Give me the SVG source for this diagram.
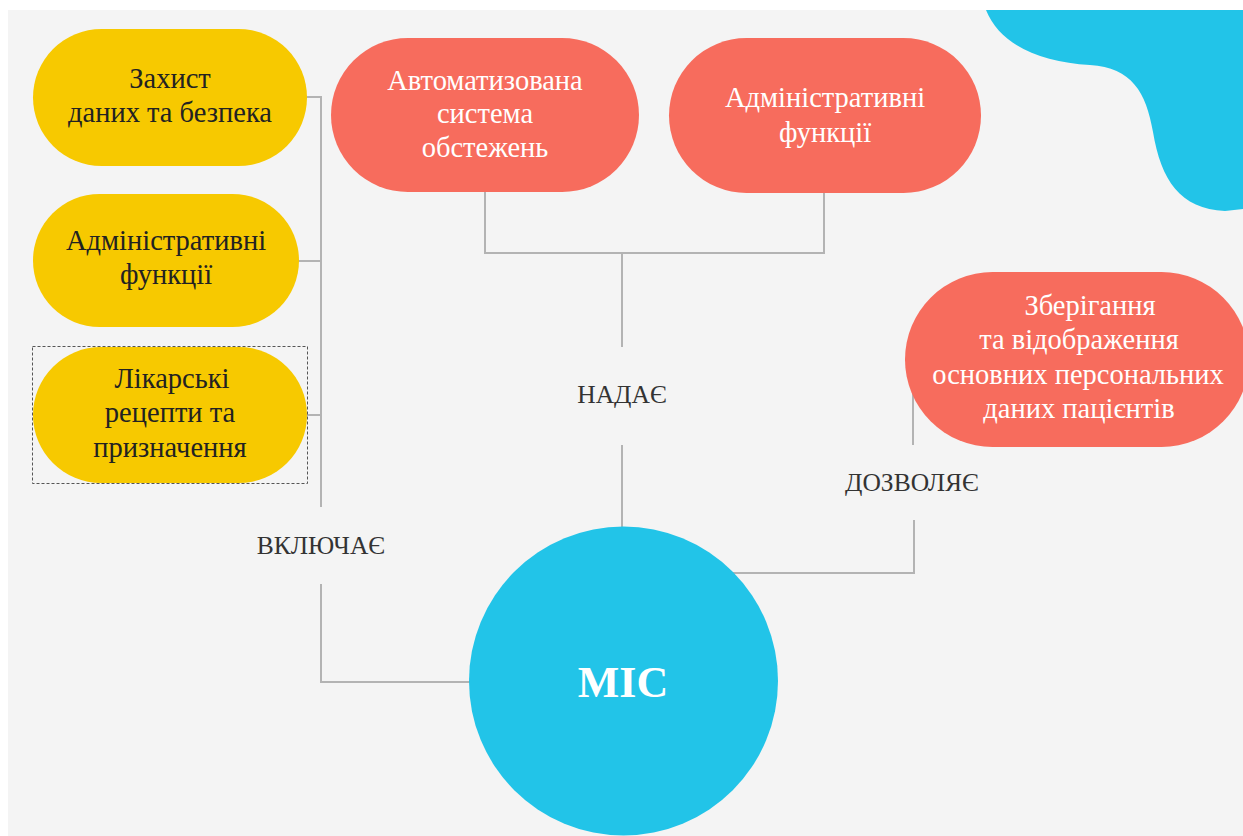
<svg xmlns="http://www.w3.org/2000/svg" width="1243" height="836" viewBox="0 0 1243 836">
<style>
.bg{fill:#f4f4f4}
.yel{fill:#f7c900}
.red{fill:#f76c5d}
.blue{fill:#22c4e8}
.conn{fill:none;stroke:#b3b3b3;stroke-width:2}
.yt{font-family:"Liberation Serif","Times New Roman",serif;font-size:28.5px;fill:#222;text-anchor:middle}
.rt{font-family:"Liberation Serif","Times New Roman",serif;font-size:28.5px;fill:#fff;text-anchor:middle}
.lbl{font-family:"Liberation Serif","Times New Roman",serif;font-size:25.5px;fill:#333;text-anchor:middle}
.sel{fill:none;stroke:#555;stroke-width:1;stroke-dasharray:3 2}
</style>
<rect x="0" y="0" width="1243" height="836" fill="#fff"/>
<rect class="bg" x="8" y="10" width="1235" height="826"/>
<path class="blue" d="M986 10 C1000 45,1040 62,1090 65 C1132 68,1146 92,1153 132 C1161 180,1180 209,1225 211 L1243 209 L1243 10 Z"/>
<g id="connectors">
<path class="conn" d="M307 97 H321 V507"/>
<path class="conn" d="M298 261 H321"/>
<path class="conn" d="M307 415 H321"/>
<path class="conn" d="M321 584 V682 H480"/>
<path class="conn" d="M485 190 V253 H824 V190"/>
<path class="conn" d="M622 253 V347"/>
<path class="conn" d="M622 445 V530"/>
<path class="conn" d="M905 360 H913 V445"/>
<path class="conn" d="M914 520 V573 H720"/>
<text class="lbl" x="321" y="554">ВКЛЮЧАЄ</text>
<text class="lbl" x="622" y="403">НАДАЄ</text>
<text class="lbl" x="912" y="491">ДОЗВОЛЯЄ</text>
</g>
<g id="node-zakhyst">
<rect class="yel" x="33" y="29" width="274" height="137" rx="68.5"/>
<text class="yt" x="170" y="88">Захист</text>
<text class="yt" x="170" y="122">даних та безпека</text>
</g>
<g id="node-admin-left">
<rect class="yel" x="33" y="194" width="266" height="133" rx="66.5"/>
<text class="yt" x="166" y="250">Адміністративні</text>
<text class="yt" x="166" y="284">функції</text>
</g>
<g id="node-recepty">
<rect class="yel" x="33" y="347" width="274" height="136" rx="68"/>
<rect class="sel" x="32.5" y="346.5" width="275" height="137"/>
<text class="yt" x="172" y="388">Лікарські</text>
<text class="yt" x="170" y="422">рецепти та</text>
<text class="yt" x="170" y="457">призначення</text>
</g>
<g id="node-avtomat">
<rect class="red" x="331" y="38" width="308" height="154" rx="77"/>
<text class="rt" x="485" y="90">Автоматизована</text>
<text class="rt" x="485" y="123">система</text>
<text class="rt" x="485" y="157">обстежень</text>
</g>
<g id="node-admin-top">
<rect class="red" x="669" y="38" width="312" height="155" rx="77.5"/>
<text class="rt" x="825" y="107">Адміністративні</text>
<text class="rt" x="825" y="142">функції</text>
</g>
<g id="node-zberig">
<rect class="red" x="905" y="272" width="344" height="175" rx="87.5"/>
<text class="rt" x="1090" y="315">Зберігання</text>
<text class="rt" x="1079" y="349">та відображення</text>
<text class="rt" x="1078" y="384">основних персональних</text>
<text class="rt" x="1079" y="418">даних пацієнтів</text>
</g>
<g id="node-mis">
<circle class="blue" cx="623.5" cy="681" r="154.5"/>
<text x="623" y="697" text-anchor="middle" font-family="Liberation Serif,'Times New Roman',serif" font-size="44" font-weight="bold" fill="#fff">МІС</text>
</g>
</svg>
